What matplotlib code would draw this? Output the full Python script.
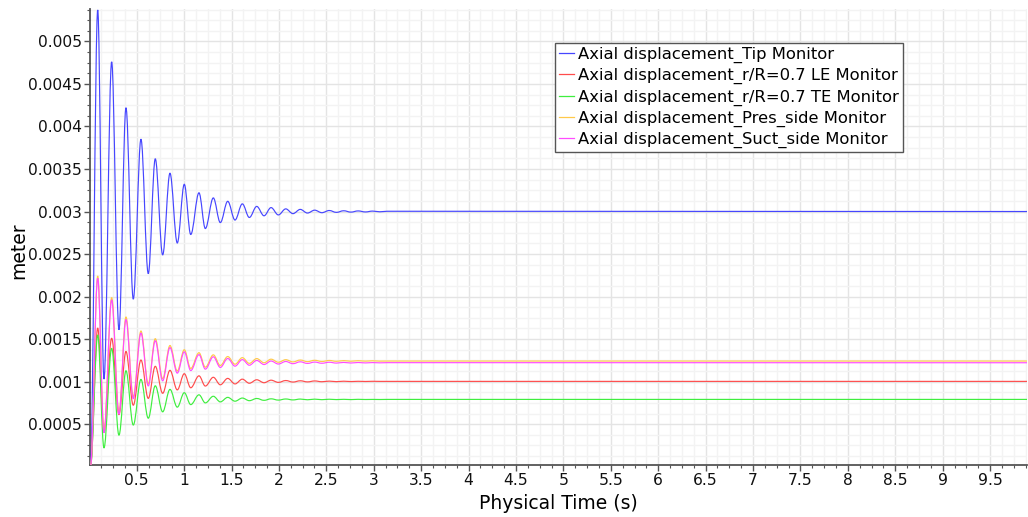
import matplotlib
matplotlib.use("Agg")
import matplotlib.pyplot as plt
from matplotlib.path import Path
from matplotlib.patches import PathPatch
from matplotlib.lines import Line2D
from matplotlib.ticker import MultipleLocator, FuncFormatter

# times (s) of the turning points: start, P1, T1, P2, T2, ... , end
times = [0.0125,
         0.089, 0.155, 0.236, 0.313, 0.387, 0.464, 0.545, 0.622, 0.696, 0.774,
         0.851, 0.928, 1.002, 1.070, 1.157, 1.224, 1.308, 1.382, 1.460, 1.537,
         1.614, 1.688, 1.766, 1.843, 1.917, 1.994, 2.072, 2.148, 2.225, 2.301,
         2.377, 2.453, 2.530, 2.606, 2.683, 2.759, 2.835, 2.912, 2.988, 3.064,
         3.141,
         9.89]

# values in mm (scaled to meter below)
tip = [0.0,
       5.37, 1.03, 4.76, 1.61, 4.22, 1.97, 3.85, 2.27, 3.62, 2.49,
       3.45, 2.63, 3.32, 2.73, 3.22, 2.80, 3.16, 2.87, 3.12, 2.90,
       3.09, 2.93, 3.06, 2.95, 3.046, 2.96, 3.031, 2.975, 3.025, 2.982,
       3.016, 2.986, 3.012, 2.990, 3.009, 2.993, 3.007, 2.995, 3.005, 2.997,
       3.003,
       3.0]

le_07 = [0.0,
         1.630, 0.403, 1.510, 0.613, 1.355, 0.723, 1.254, 0.803, 1.180, 0.863,
         1.133, 0.903, 1.093, 0.928, 1.068, 0.948, 1.051, 0.963, 1.038, 0.973,
         1.029, 0.981, 1.022, 0.987, 1.017, 0.991, 1.013, 0.995, 1.010, 0.997,
         1.008, 0.999, 1.006, 1.000, 1.005, 1.001, 1.004, 1.002, 1.004, 1.003,
         1.003,
         1.003]

te_07 = [0.0,
         1.548, 0.221, 1.391, 0.371, 1.128, 0.490, 1.026, 0.570, 0.951, 0.645,
         0.909, 0.700, 0.870, 0.730, 0.845, 0.750, 0.828, 0.762, 0.815, 0.770,
         0.807, 0.776, 0.802, 0.780, 0.798, 0.783, 0.796, 0.785, 0.795, 0.787,
         0.794, 0.788, 0.793, 0.789, 0.792, 0.789, 0.792, 0.790, 0.791, 0.790,
         0.791,
         0.791]

pres = [0.0,
        2.242, 0.425, 1.988, 0.645, 1.760, 0.825, 1.595, 0.975, 1.505, 1.035,
        1.425, 1.125, 1.375, 1.155, 1.340, 1.170, 1.315, 1.190, 1.295, 1.205,
        1.282, 1.215, 1.271, 1.222, 1.264, 1.228, 1.258, 1.232, 1.254, 1.235,
        1.251, 1.237, 1.249, 1.239, 1.247, 1.240, 1.246, 1.241, 1.245, 1.241,
        1.242,
        1.242]

suct = [0.0,
        2.215, 0.400, 1.960, 0.620, 1.730, 0.800, 1.570, 0.950, 1.480, 1.010,
        1.400, 1.100, 1.350, 1.130, 1.317, 1.147, 1.292, 1.167, 1.272, 1.182,
        1.259, 1.193, 1.249, 1.201, 1.242, 1.207, 1.237, 1.211, 1.233, 1.214,
        1.230, 1.216, 1.228, 1.218, 1.226, 1.219, 1.225, 1.220, 1.224, 1.221,
        1.223,
        1.222]

labels = ["Axial displacement_Tip Monitor",
          "Axial displacement_r/R=0.7 LE Monitor",
          "Axial displacement_r/R=0.7 TE Monitor",
          "Axial displacement_Pres_side Monitor",
          "Axial displacement_Suct_side Monitor"]

colors = ["#4646ff", "#ff4c4c", "#3fee3f", "#ffc94a", "#ff4cff"]


def smooth_path(ts, vs):
    # cubic bezier between turning points, flat tangent at each one
    verts = [(ts[0], vs[0])]
    codes = [Path.MOVETO]
    for i in range(len(ts) - 1):
        dt = ts[i + 1] - ts[i]
        k = 0.36 if i < len(ts) - 2 else 0.02
        verts += [(ts[i] + dt * k, vs[i]),
                  (ts[i + 1] - dt * k, vs[i + 1]),
                  (ts[i + 1], vs[i + 1])]
        codes += [Path.CURVE4] * 3
    return Path(verts, codes)


fig = plt.figure(figsize=(10.28, 5.17), dpi=100)
ax = fig.add_axes([0.088, 0.1006, 0.9111, 0.882])

series = [tip, le_07, te_07, pres, suct]
for vals, c in zip(series, colors):
    vs = [v * 1e-3 for v in vals]
    ax.add_patch(PathPatch(smooth_path(times, vs), fill=False,
                           edgecolor=c, lw=0.85, zorder=3))

ax.set_xlim(0.0125, 9.89)
ax.set_ylim(0.00002, 0.005381)

ax.xaxis.set_major_locator(MultipleLocator(0.5))
ax.xaxis.set_minor_locator(MultipleLocator(0.125))
ax.yaxis.set_major_locator(MultipleLocator(0.0005))
ax.yaxis.set_minor_locator(MultipleLocator(0.000125))
fmt = FuncFormatter(lambda v, p: "%g" % round(v, 6))
ax.xaxis.set_major_formatter(fmt)
ax.yaxis.set_major_formatter(fmt)

ax.grid(which="major", color="#e4e4e4", lw=1.0, zorder=0)
ax.grid(which="minor", color="#f3f3f3", lw=1.0, zorder=0)
ax.set_axisbelow(True)

for s in ["top", "right"]:
    ax.spines[s].set_visible(False)
for s in ["left", "bottom"]:
    ax.spines[s].set_color("#555555")
    ax.spines[s].set_linewidth(1.3)

ax.tick_params(which="major", length=4, width=1, color="#555555",
               labelsize=11.2, labelcolor="#111111", pad=2)
ax.tick_params(which="minor", length=2.5, width=0.8, color="#555555")

ax.set_xlabel("Physical Time (s)", fontsize=13.5, labelpad=4)
ax.set_ylabel("meter", fontsize=13.5)
ax.yaxis.set_label_coords(-0.066, 0.47)

handles = [Line2D([], [], color=c, lw=0.9) for c in colors]
leg = ax.legend(handles, labels, loc="upper left", bbox_to_anchor=(0.496, 0.926),
                fontsize=11.8, handlelength=0.9, handletextpad=0.25,
                labelspacing=0.31, borderpad=0.25, borderaxespad=0,
                fancybox=False, framealpha=1, edgecolor="#555555")
leg.get_frame().set_linewidth(1.0)

fig.savefig("out.png", dpi=100)
